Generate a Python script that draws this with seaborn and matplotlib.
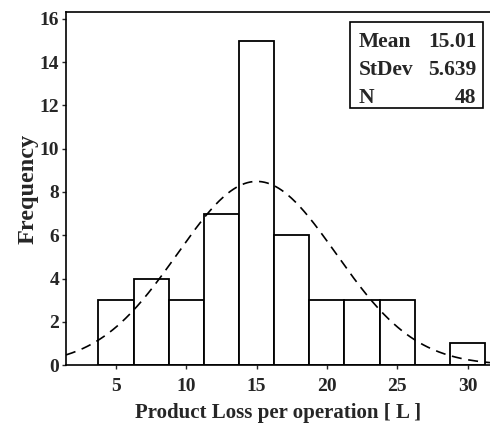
import numpy as np
import pandas as pd
import seaborn as sns
import matplotlib.pyplot as plt
from matplotlib.patches import Rectangle

# histogram (bin width 2.5)
bin_edges = [3.75, 6.25, 8.75, 11.25, 13.75, 16.25, 18.75, 21.25, 23.75, 26.25, 28.75, 31.25]
bin_centers = [5, 7.5, 10, 12.5, 15, 17.5, 20, 22.5, 25, 27.5, 30]
counts = [3, 4, 3, 7, 15, 6, 3, 3, 3, 0, 1]

# summary stats shown in the box
stat_names = ['Mean', 'StDev', 'N']
stat_values = ['15.01', '5.639', '48']
mean_val = 15.01
sd_val = 5.639
n_val = 48

xticks = [5, 10, 15, 20, 25, 30]
yticks = [0, 2, 4, 6, 8, 10, 12, 14, 16]

sns.set_style('white')
plt.rcParams['font.family'] = ['Liberation Serif', 'DejaVu Serif']
plt.rcParams['font.weight'] = 'bold'

fig = plt.figure(figsize=(4.9, 4.23), dpi=100)
ax = fig.add_axes([0.1347, 0.137, 0.8653, 0.8346])

df = pd.DataFrame({'center': bin_centers, 'count': counts})
sns.histplot(data=df, x='center', weights='count', bins=bin_edges, stat='count',
             color='white', edgecolor='black', linewidth=1.3, alpha=1, ax=ax)

# fitted normal curve scaled to counts
xlo, xhi = 1.44, 31.6
bw = bin_edges[1] - bin_edges[0]
xs = np.linspace(xlo, xhi, 300)
ys = n_val * bw / (sd_val * np.sqrt(2 * np.pi)) * np.exp(-0.5 * ((xs - mean_val) / sd_val) ** 2)
sns.lineplot(x=xs, y=ys, color='black', linewidth=1.2, linestyle=(0, (6, 4)), ax=ax)

ax.set_xlim(xlo, xhi)
ax.set_ylim(0, 16.32)
ax.set_xticks(xticks)
ax.set_yticks(yticks)
ax.tick_params(axis='both', direction='out', length=3, width=1, labelsize=14, pad=6)
ax.tick_params(axis='x', bottom=True)
ax.tick_params(axis='y', left=True, pad=2)
ax.set_xlabel('Product Loss per operation [ L ]', fontsize=15, fontweight='bold', labelpad=6)
ax.set_ylabel('Frequency', fontsize=17.5, fontweight='bold', labelpad=1)

for side in ['left', 'top', 'bottom']:
    ax.spines[side].set_visible(True)
    ax.spines[side].set_color('black')
    ax.spines[side].set_linewidth(1.2)
ax.spines['right'].set_visible(False)

# stats box
ax.add_patch(Rectangle((0.670, 0.728), 0.313, 0.244, transform=ax.transAxes,
                       facecolor='white', edgecolor='black', linewidth=1.2, zorder=5))
row_y = [0.915, 0.836, 0.756]
for name, val, yy in zip(stat_names, stat_values, row_y):
    ax.text(0.690, yy, name, transform=ax.transAxes, ha='left', va='center',
            fontsize=15.5, fontweight='bold', zorder=6)
    ax.text(0.968, yy, val, transform=ax.transAxes, ha='right', va='center',
            fontsize=15.5, fontweight='bold', zorder=6)

fig.savefig('out.png', dpi=100)
